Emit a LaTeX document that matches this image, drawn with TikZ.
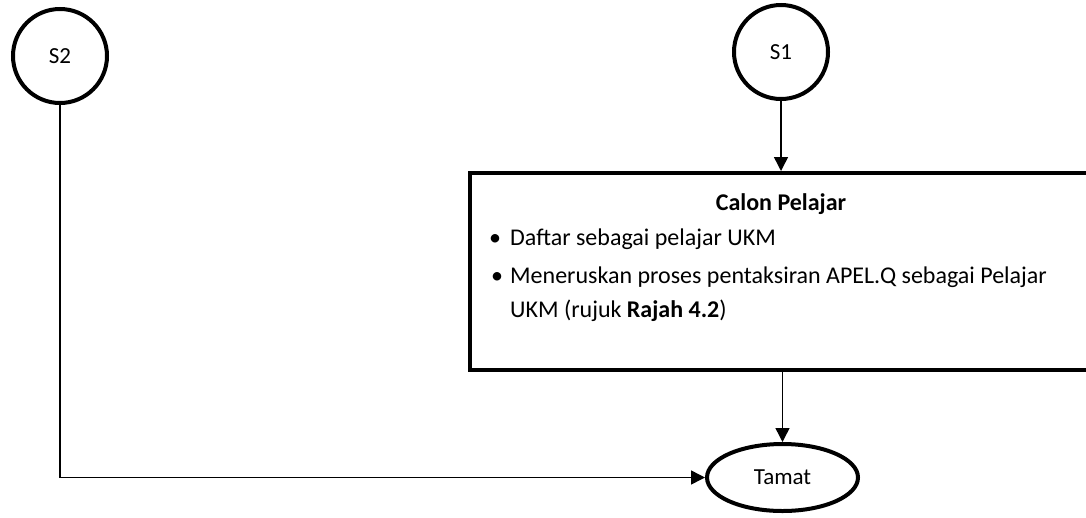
\documentclass[tikz,border=0pt]{standalone}
\usepackage{fontspec}
\setmainfont{Carlito}
\usetikzlibrary{arrows.meta,shapes.geometric}
\begin{document}
\begin{tikzpicture}[x=1pt,y=-1pt,
  connector/.style={circle,draw,line width=4pt,minimum size=94pt,inner sep=0pt,
    font=\fontsize{23}{28}\selectfont},
  terminal/.style={ellipse,draw,line width=4pt,minimum width=151pt,minimum height=67pt,
    inner sep=0pt,font=\fontsize{23}{28}\selectfont},
  procbox/.style={rectangle,draw,line width=4pt,minimum width=620pt,minimum height=197pt,
    inner sep=0pt},
  flow/.style={line width=1.5pt,-{Triangle[length=14pt,width=14pt]}},
  body/.style={inner sep=0pt,anchor=base west,font=\fontsize{24}{34}\selectfont},
  bullet/.style={inner sep=0pt,anchor=base,font=\fontsize{24}{34}\selectfont}
]
\useasboundingbox (0,0) rectangle (1086,517);

% start connectors
\node[connector] (s2) at (60,56) {S2};
\node[connector] (s1) at (781,52) {S1};

% process box
\node[procbox] (box) at (780,271.5) {};
\node[inner sep=0pt,anchor=base,font=\fontsize{24}{34}\selectfont\bfseries] (title) at (781,210) {Calon Pelajar};
\node[bullet] (b1) at (495,245) {\textbullet};
\node[body] (l1) at (510,245) {Daftar sebagai pelajar UKM};
\node[bullet] (b2) at (497,283) {\textbullet};
\node[body] (l2) at (510,283) {Meneruskan proses pentaksiran APEL.Q sebagai Pelajar};
\node[body] (l3) at (510,317) {UKM (rujuk \textbf{Rajah 4.2})};

% end terminal
\node[terminal] (tamat) at (782.5,477.5) {Tamat};

% flow lines
\draw[flow] (s1.south) -- (s1.south |- box.north);
\draw[flow] (box.south -| tamat.north) -- (tamat.north);
\draw[flow] (s2.south) |- (tamat.west);
\end{tikzpicture}
\end{document}
